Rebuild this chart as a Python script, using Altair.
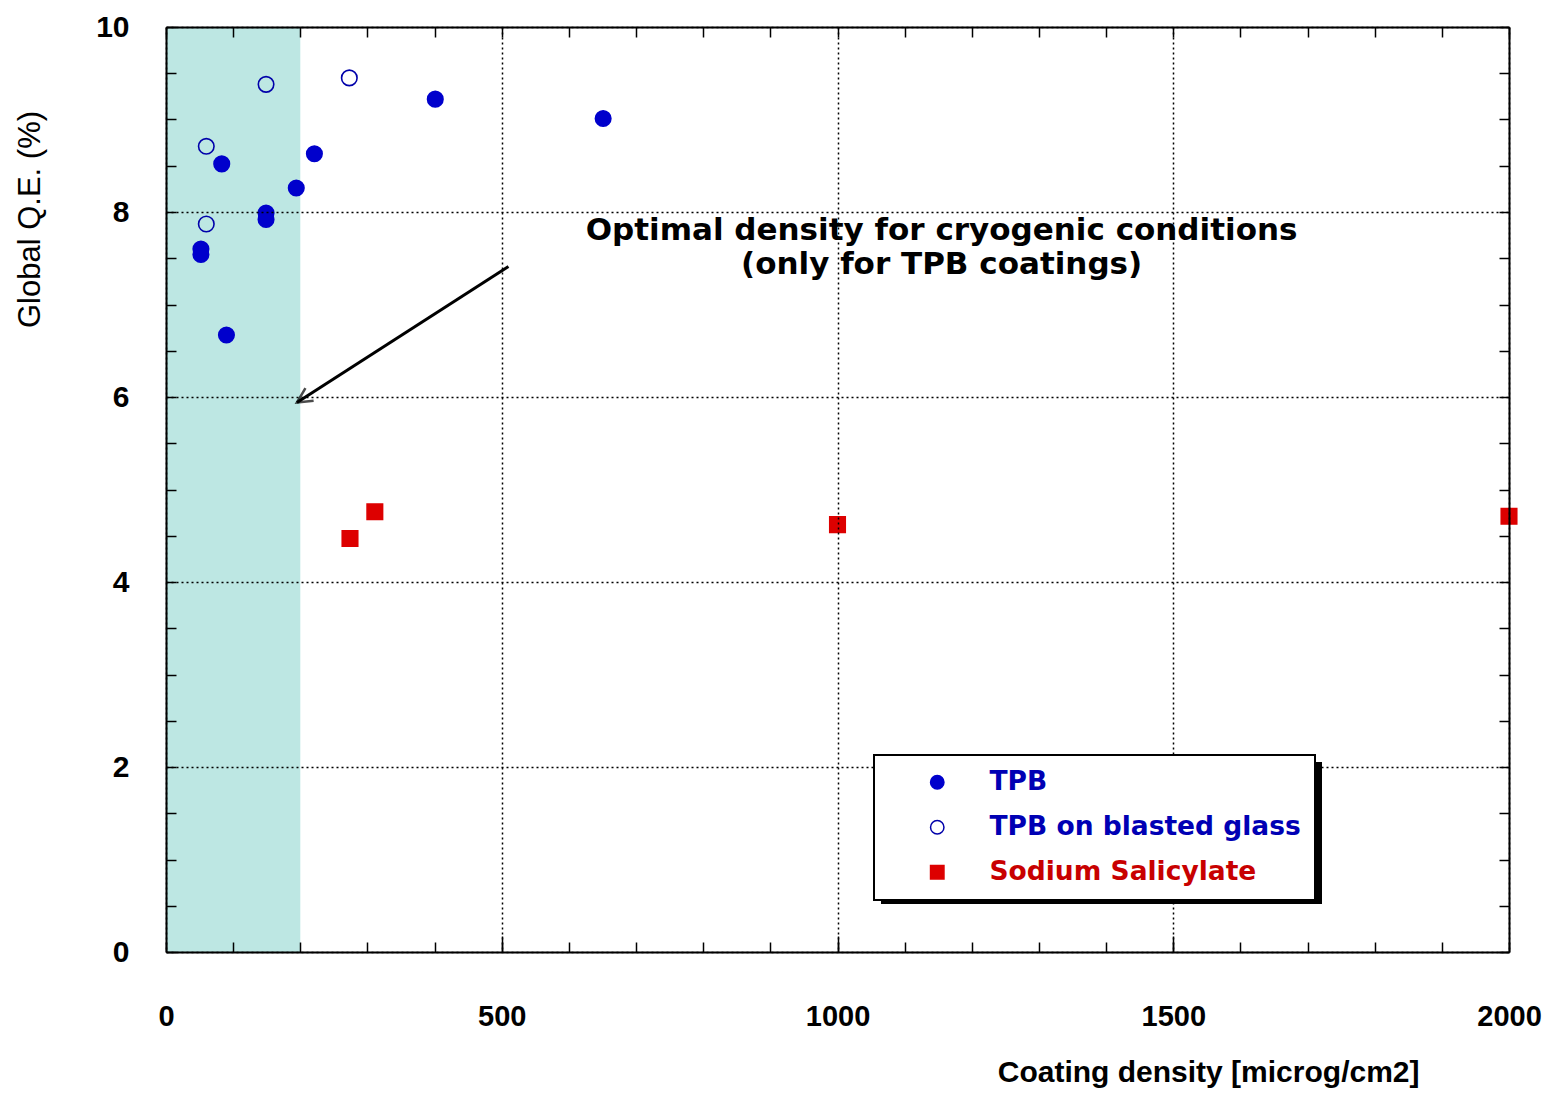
import altair as alt
import pandas as pd

# ---- data ----
tpb_x = [52, 52, 83, 90, 149, 149, 194, 221, 401, 651]
tpb_y = [7.60, 7.54, 8.52, 6.67, 7.99, 7.92, 8.26, 8.63, 9.22, 9.01]
blast_x = [60, 60, 149, 273]
blast_y = [8.71, 7.87, 9.38, 9.45]
nasal_x = [274, 311, 1000, 2000]
nasal_y = [4.47, 4.76, 4.62, 4.71]
series_names = ["TPB", "TPB on blasted glass", "Sodium Salicylate"]

shade_x = [0, 200]
shade_y = [0, 10]
arrow_x = [510, 195]
arrow_y = [7.41, 5.94]
note_lines = ["Optimal density for cryogenic conditions", "(only for TPB coatings)"]
note_x = [1155, 1155]
note_y = [7.80, 7.43]

x_major = [0, 500, 1000, 1500, 2000]
x_minor = list(range(0, 2001, 100))
y_major = [0, 2, 4, 6, 8, 10]
y_minor = [i * 0.5 for i in range(0, 21)]

W, H = 1343, 925
x_scale = alt.Scale(domain=[0, 2000], nice=False, zero=False)
y_scale = alt.Scale(domain=[0, 10], nice=False, zero=False)

pts = pd.DataFrame({
    "x": tpb_x + blast_x + nasal_x,
    "y": tpb_y + blast_y + nasal_y,
    "series": [series_names[0]] * len(tpb_x) + [series_names[1]] * len(blast_x) + [series_names[2]] * len(nasal_x),
})
shade_df = pd.DataFrame({"x0": [shade_x[0]], "x1": [shade_x[1]], "y0": [shade_y[0]], "y1": [shade_y[1]]})
arrow_df = pd.DataFrame({"x": arrow_x, "y": arrow_y, "o": [0, 1]})
head_df = pd.DataFrame({"x": [arrow_x[1]], "y": [arrow_y[1]]})
note_df = pd.DataFrame({"x": note_x, "y": note_y, "t": note_lines})

LAB_FONT = "Liberation Sans"
NOTE_FONT = "DejaVu Sans"

main_x_axis = alt.Axis(
    orient="bottom", values=x_major, format="d", grid=True, gridColor="black", gridDash=[2, 3],
    gridWidth=1.5, gridOpacity=1, tickSize=0, domain=True, domainColor="black",
    domainWidth=2, labelFont=LAB_FONT, labelFontSize=29, labelFontWeight="bold",
    labelColor="black", labelPadding=50, labelFlush=False,
    title="Coating density [microg/cm2]", titleFont=LAB_FONT, titleFontSize=30,
    titleFontWeight="bold", titleColor="black", titleX=1253, titleY=129,
    titleAlign="right", titleBaseline="alphabetic", zindex=1,
)
main_y_axis = alt.Axis(
    orient="left", values=y_major, format="d", grid=True, gridColor="black", gridDash=[2, 3],
    gridWidth=1.5, gridOpacity=1, tickSize=0, domain=True, domainColor="black",
    domainWidth=2, labelFont=LAB_FONT, labelFontSize=30, labelFontWeight="bold",
    labelColor="black", labelPadding=37, labelFlush=False,
    title="Global Q.E. (%)", titleFont=LAB_FONT, titleFontSize=31,
    titleFontWeight="normal", titleColor="black", titleX=-136, titleY=192,
    titleAngle=270, titleAlign="center", titleBaseline="middle", zindex=1,
)


def tick_axis(orient, vals, off, size=10, dom=False):
    return alt.Axis(orient=orient, values=vals, offset=off, tickSize=size,
                    tickColor="black", tickWidth=1.5, labels=False, domain=dom,
                    domainColor="black", domainWidth=2, grid=False, title=None,
                    zindex=1)


shade = alt.Chart(shade_df).mark_rect(color="#bde7e3").encode(
    x=alt.X("x0:Q", scale=x_scale, axis=main_x_axis),
    x2="x1:Q",
    y=alt.Y("y0:Q", scale=y_scale, axis=main_y_axis),
    y2="y1:Q",
)

LEG_X, LEG_Y, LEG_W, LEG_H = 708, 728, 441, 142

leg = alt.Legend(
    title=None, orient="none", legendX=LEG_X, legendY=LEG_Y, fillColor="white",
    strokeColor="black", padding=14, symbolOffset=36, labelOffset=39,
    rowPadding=18, symbolSize=180, symbolStrokeWidth=1.5,
    labelFont=NOTE_FONT, labelFontSize=26.5, labelFontWeight="bold",
    labelColor={"expr": "datum.label == 'Sodium Salicylate' ? '#c80000' : '#0000b4'"},
    labelLimit=600, zindex=2,
)

points = alt.Chart(pts).mark_point(filled=True, size=240, strokeWidth=1.6, opacity=1).encode(
    x=alt.X("x:Q", scale=x_scale, axis=tick_axis("top", x_minor, -H)),
    y=alt.Y("y:Q", scale=y_scale, axis=tick_axis("right", y_minor, -W)),
    fill=alt.Fill("series:N", scale=alt.Scale(domain=series_names, range=["#0000cc", "transparent", "#dd0000"]), legend=leg),
    stroke=alt.Stroke("series:N", scale=alt.Scale(domain=series_names, range=["#0000cc", "#0000aa", "#dd0000"]), legend=leg),
    shape=alt.Shape("series:N", scale=alt.Scale(domain=series_names, range=["circle", "circle", "square"]), legend=leg),
)

arrow = alt.Chart(arrow_df).mark_line(color="black", strokeWidth=3).encode(
    x=alt.X("x:Q", scale=x_scale, axis=tick_axis("bottom", x_minor, -H, dom=True)),
    y=alt.Y("y:Q", scale=y_scale, axis=tick_axis("left", y_minor, -W, dom=True)),
    order="o:Q",
)

head = alt.Chart(head_df).mark_point(filled=False, stroke="black", strokeWidth=2.5, size=900, angle=237).encode(
    x=alt.X("x:Q", scale=x_scale, axis=tick_axis("top", [500, 1000, 1500], -H, size=16)),
    y=alt.Y("y:Q", scale=y_scale, axis=None),
    shape=alt.value("M -0.5 1 L 0 0 L 0.5 1"),
)

note = alt.Chart(note_df).mark_text(
    font=NOTE_FONT, fontSize=31, fontWeight="bold", color="black", align="center", baseline="middle"
).encode(
    x=alt.X("x:Q", scale=x_scale, axis=None),
    y=alt.Y("y:Q", scale=y_scale, axis=None),
    text="t:N",
)

shadow = alt.Chart(pd.DataFrame({"k": [0]})).mark_rect(color="black").encode(
    x=alt.value(LEG_X + 7), x2=alt.value(LEG_X + LEG_W + 7),
    y=alt.value(LEG_Y + 7), y2=alt.value(LEG_Y + LEG_H + 7),
)

chart = alt.layer(shade, shadow, points, arrow, head, note).resolve_axis(
    x="independent", y="independent"
).properties(
    width=W, height=H,
    autosize=alt.AutoSizeParams(type="none"),
    padding={"left": 158, "top": 19, "right": 33, "bottom": 136},
).configure_view(stroke=None).configure_legend(strokeWidth=2)

chart.save("out.html", embed_options={"renderer": "svg", "actions": False})
